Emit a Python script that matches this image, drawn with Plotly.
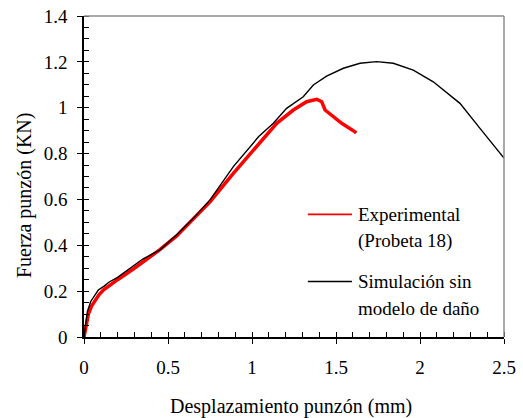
import plotly.graph_objects as go

# Simulation (black)
sim_x = [0, 0.01, 0.02, 0.04, 0.06, 0.085, 0.12, 0.15, 0.2, 0.274, 0.35, 0.452, 0.55, 0.66, 0.75,
         0.889, 1.04, 1.127, 1.206, 1.305, 1.365, 1.444, 1.544, 1.643, 1.742, 1.841, 1.96, 2.079,
         2.238, 2.357, 2.5]
sim_y = [0, 0.06, 0.11, 0.155, 0.18, 0.205, 0.222, 0.24, 0.26, 0.30, 0.34, 0.38, 0.445, 0.525, 0.598,
         0.743, 0.874, 0.932, 0.997, 1.048, 1.099, 1.138, 1.172, 1.194, 1.201, 1.194, 1.164, 1.113,
         1.019, 0.91, 0.78]

# Experimental (red)
exp_x = [0, 0.01, 0.026, 0.045, 0.065, 0.09, 0.115, 0.15, 0.2, 0.3, 0.45, 0.55, 0.66, 0.75, 0.889,
         1.04, 1.147, 1.246, 1.325, 1.385, 1.415, 1.435, 1.474, 1.534, 1.613, 1.62]
exp_y = [0, 0.04, 0.10, 0.135, 0.16, 0.185, 0.205, 0.225, 0.25, 0.30, 0.38, 0.44, 0.52, 0.59, 0.714,
         0.845, 0.932, 0.99, 1.026, 1.037, 1.026, 0.99, 0.968, 0.932, 0.895, 0.89]

legend_lines = [("Experimental", "(Probeta 18)", "red"),
                ("Simulación sin", "modelo de daño", "black")]

x_title = "Desplazamiento punzón (mm)"
y_title = "Fuerza punzón (KN)"

FONT = "Times New Roman"
FS = 19
F = dict(family=FONT, size=FS, color="black")
FT = dict(family=FONT, size=20, color="black")

fig = go.Figure()
fig.add_trace(go.Scatter(x=exp_x, y=exp_y, mode="lines", line=dict(color="#ff0000", width=3.5),
                         showlegend=False))
fig.add_trace(go.Scatter(x=sim_x, y=sim_y, mode="lines", line=dict(color="black", width=1.4),
                         showlegend=False, xaxis="x2", yaxis="y2"))

common = dict(showgrid=False, zeroline=False, automargin=False)
fig.update_layout(
    width=523, height=418,
    margin=dict(l=84, r=19, t=16, b=81),
    paper_bgcolor="white", plot_bgcolor="white",
    font=F,
    xaxis=dict(range=[0, 2.5], dtick=0.5, tick0=0, ticks="outside", ticklen=5, tickwidth=1.3,
               tickcolor="black", showline=True, linecolor="black", linewidth=1.5, tickfont=F,
               minor=dict(dtick=0.1, ticks="inside", ticklen=5, tickwidth=1.2, tickcolor="black"),
               ticklabelstandoff=7, **common),
    yaxis=dict(range=[0, 1.4], dtick=0.2, tick0=0, ticks="outside", ticklen=5, tickwidth=1.3,
               tickcolor="black", showline=True, linecolor="black", linewidth=1.5, tickfont=F,
               minor=dict(dtick=0.05, ticks="inside", ticklen=5, tickwidth=1.2, tickcolor="black"),
               ticklabelstandoff=6, **common),
    xaxis2=dict(overlaying="x", matches="x", side="bottom", ticks="inside", ticklen=5, tickwidth=1.3,
                tickcolor="black", dtick=0.5, tick0=0, showticklabels=False, showline=False, **common),
    yaxis2=dict(overlaying="y", matches="y", side="left", ticks="inside", ticklen=5, tickwidth=1.3,
                tickcolor="black", dtick=0.2, tick0=0, showticklabels=False, showline=False, **common),
)

# axis titles
fig.add_annotation(xref="paper", yref="paper", x=0.494, y=-0.218, text=x_title, showarrow=False,
                   xanchor="center", yanchor="middle", font=FT)
fig.add_annotation(xref="paper", yref="paper", x=-0.143, y=0.442, text=y_title, showarrow=False,
                   textangle=-90, xanchor="center", yanchor="middle", font=FT)

# grey top/right frame
fig.add_shape(type="line", xref="paper", yref="paper", x0=0, x1=1, y0=1, y1=1,
              line=dict(color="#8c8c8c", width=1.5))
fig.add_shape(type="line", xref="paper", yref="paper", x0=1, x1=1, y0=0, y1=1,
              line=dict(color="#8c8c8c", width=1.5))

# manual legend
leg_y = [0.382, 0.173]
for (l1, l2, col), yy in zip(legend_lines, leg_y):
    fig.add_shape(type="line", xref="paper", yref="paper", x0=0.533, x1=0.638, y0=yy, y1=yy,
                  line=dict(color=col, width=1.6))
    fig.add_annotation(xref="paper", yref="paper", x=0.648, y=yy, text=l1, showarrow=False,
                       xanchor="left", yanchor="middle", font=F)
    fig.add_annotation(xref="paper", yref="paper", x=0.648, y=yy - 0.083, text=l2, showarrow=False,
                       xanchor="left", yanchor="middle", font=F)

fig.write_html("out.html")
